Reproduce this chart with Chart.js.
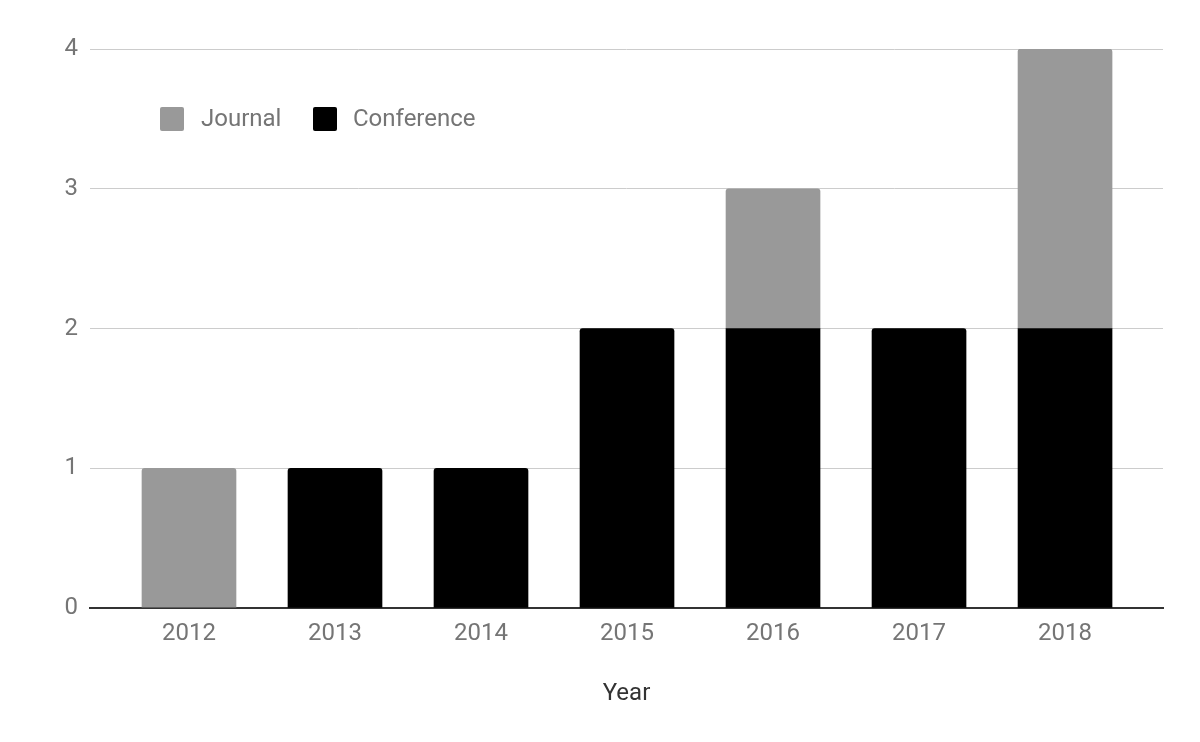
<!DOCTYPE html>
<html>
<head>
<meta charset="utf-8">
<script src="https://cdn.jsdelivr.net/npm/chart.js@4/dist/chart.umd.min.js"></script>
<style>
  html, body { margin: 0; padding: 0; background: #fff; }
  #wrap { position: relative; width: 1200px; height: 742px; }
  #legend { position: absolute; left: 160px; top: 104px; font-family: Roboto, sans-serif; font-size: 24px; color: #757575; }
  .item { position: absolute; top: 0; white-space: nowrap; height: 28px; line-height: 28px; }
  .sw { position: absolute; top: 3px; width: 24px; height: 24px; border-radius: 2px; }
  .lbl { position: absolute; top: 0; }
</style>
</head>
<body>
<div id="wrap">
  <canvas id="c" width="1200" height="742"></canvas>
  <div id="legend"></div>
</div>
<script>
const years = ['2012', '2013', '2014', '2015', '2016', '2017', '2018'];
const journal = [1, 0, 0, 0, 1, 0, 2];
const conference = [0, 1, 1, 2, 2, 2, 2];
const yTicks = [0, 1, 2, 3, 4];
const seriesNames = ['Journal', 'Conference'];
const seriesColors = ['#999999', '#000000'];

// legend (HTML overlay)
const legend = document.getElementById('legend');
const legendOffsets = [[0, 41], [153, 193]];
seriesNames.forEach((name, i) => {
  const sw = document.createElement('div');
  sw.className = 'sw';
  sw.style.left = legendOffsets[i][0] + 'px';
  sw.style.background = seriesColors[i];
  const lb = document.createElement('div');
  lb.className = 'item lbl';
  lb.style.left = legendOffsets[i][1] + 'px';
  lb.textContent = name;
  legend.appendChild(sw);
  legend.appendChild(lb);
});

const font = { family: 'Roboto', size: 24 };
const topR = { topLeft: 3, topRight: 3, bottomLeft: 0, bottomRight: 0 };

new Chart(document.getElementById('c'), {
  type: 'bar',
  data: {
    datasets: [
      {
        label: seriesNames[1],
        data: conference.map((v, i) => ({ x: i, y: v })),
        backgroundColor: seriesColors[1],
        borderWidth: 0,
        borderRadius: (ctx) => (journal[ctx.dataIndex] > 0 ? 0 : topR),
        borderSkipped: false,
        barThickness: 94
      },
      {
        label: seriesNames[0],
        data: journal.map((v, i) => ({ x: i, y: v })),
        backgroundColor: seriesColors[0],
        borderWidth: 0,
        borderRadius: topR,
        borderSkipped: false,
        barThickness: 94
      }
    ]
  },
  options: {
    responsive: false,
    animation: false,
    layout: { padding: { top: 49, right: 37, left: 0, bottom: 0 } },
    plugins: { legend: { display: false }, tooltip: { enabled: false } },
    scales: {
      x: {
        type: 'linear',
        stacked: true,
        offset: false,
        min: -0.678,
        max: 6.671,
        afterBuildTicks: (scale) => { scale.ticks = years.map((_, i) => ({ value: i })); },
        afterFit: (scale) => { scale.height = 134; },
        grid: { display: false, drawTicks: false, offset: false },
        border: { display: true, color: '#333333', width: 2 },
        ticks: {
          color: '#757575',
          font: font,
          padding: 12,
          autoSkip: false,
          maxRotation: 0,
          callback: (v) => years[v] ?? ''
        },
        title: {
          display: true,
          text: 'Year',
          color: '#333333',
          font: font,
          padding: { top: 0, bottom: 34 }
        }
      },
      y: {
        stacked: true,
        min: 0,
        max: 4,
        afterBuildTicks: (scale) => { scale.ticks = yTicks.map((v) => ({ value: v })); },
        afterFit: (scale) => { scale.width = 90; },
        grid: { color: '#cccccc', lineWidth: 1, drawTicks: false },
        border: { display: false },
        ticks: { color: '#757575', font: font, padding: 12 }
      }
    }
  }
});
</script>
</body>
</html>
